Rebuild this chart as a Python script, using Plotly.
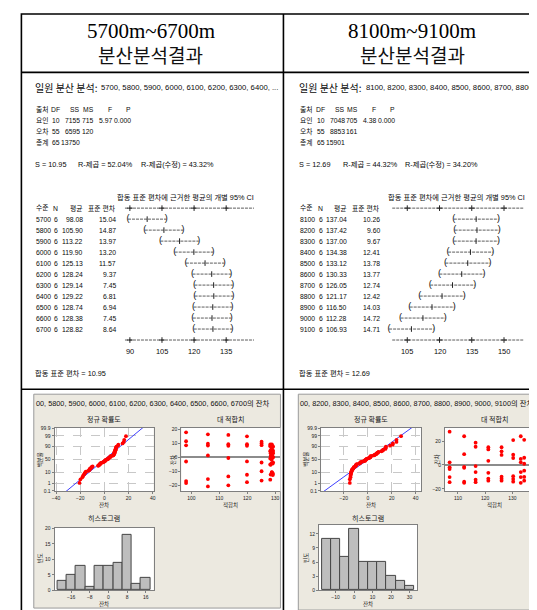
import plotly.graph_objects as go
import numpy as np
from statistics import NormalDist

# =========================== DATA ===========================
range_titles = ["5700m~6700m", "8100m~9100m"]
section_title = "분산분석결과"

L_levels = ["5700", "5800", "5900", "6000", "6100", "6200", "6300", "6400", "6500", "6600", "6700"]
L_n = [6, 6, 6, 6, 6, 6, 6, 6, 6, 6, 6]
L_means = [98.08, 105.90, 113.22, 119.90, 125.13, 128.24, 129.14, 129.22, 128.74, 128.38, 128.82]
L_sds = [15.04, 14.87, 13.97, 13.20, 11.57, 9.37, 7.45, 6.81, 6.94, 7.45, 8.64]
L_df = [10, 55, 65]
L_ss = [7155, 6595, 13750]
L_ms = [715, 120]
L_f = "5.97"
L_p = "0.000"
L_s, L_rsq, L_rsq_adj = "10.95", "52.04%", "43.32%"
L_pooled = 10.95
L_ci_ticks = [90, 105, 120, 135]
L_resid = [
    [17.8, 11.5, 8.6, -2.9, -16.8, -18.2],
    [16.4, 9.8, 8.4, 1.4, -15.4, -20.6],
    [16.0, 9.4, 8.3, -0.4, -13.5, -19.8],
    [15.0, 9.4, 8.3, -2.8, -12.3, -17.6],
    [11.2, 9.9, 8.7, -3.6, -9.8, -16.4],
    [9.2, 8.0, 4.4, -0.8, -5.0, -15.8],
    [8.0, 5.0, 3.2, 0.6, -4.3, -12.5],
    [7.5, 4.5, 3.0, 0.0, -3.5, -11.5],
    [7.6, 6.4, 2.5, -1.5, -4.0, -11.0],
    [8.4, 5.0, 3.0, 1.0, -5.2, -12.2],
    [9.2, 7.2, 4.0, 0.6, -10.4, -10.6],
]

R_levels = ["8100", "8200", "8300", "8400", "8500", "8600", "8700", "8800", "8900", "9000", "9100"]
R_n = [6, 6, 6, 6, 6, 6, 6, 6, 6, 6, 6]
R_means = [137.04, 137.42, 137.00, 134.38, 133.12, 130.33, 126.05, 121.17, 116.50, 112.28, 106.93]
R_sds = [10.26, 9.60, 9.67, 12.41, 13.78, 13.77, 12.74, 12.42, 14.03, 14.72, 14.71]
R_df = [10, 55, 65]
R_ss = [7048, 8853, 15901]
R_ms = [705, 161]
R_f = "4.38"
R_p = "0.000"
R_s, R_rsq, R_rsq_adj = "12.69", "44.32%", "34.20%"
R_pooled = 12.69
R_ci_ticks = [105, 120, 135, 150]
R_resid = [
    [15.0, 7.6, 1.0, -2.4, -9.0, -12.2],
    [12.4, 7.2, 2.0, -0.4, -7.4, -13.8],
    [12.6, 7.0, 2.2, -1.4, -6.2, -14.2],
    [21.0, 6.0, 1.0, -4.8, -10.0, -13.2],
    [24.0, 5.0, 2.2, -6.0, -10.2, -15.0],
    [20.8, 8.6, 5.8, -9.4, -11.8, -14.0],
    [14.8, 11.4, 8.4, -9.8, -11.6, -13.2],
    [14.8, 13.0, 3.4, -6.6, -11.4, -13.2],
    [18.6, 15.2, -1.0, -6.0, -12.4, -14.4],
    [24.0, 9.0, -1.6, -2.4, -14.0, -15.0],
    [27.8, 2.2, -2.0, -3.4, -10.2, -14.4],
]

anova_sources = ["요인", "오차", "총계"]
prob_ticks = [0.1, 1, 10, 50, 90, 99, 99.9]
T_CRIT = 2.004  # t(0.975, 55)

# =========================== LAYOUT HELPERS ===========================
W, H = 537, 610
ROW0, ROWH = 77.0, 11.1
SESS = "Liberation Sans, Noto Sans CJK KR, sans-serif"
SERIF = "Liberation Serif, DejaVu Serif, serif"
CJK = "Noto Sans CJK KR, sans-serif"
GF = "Liberation Sans, Noto Sans CJK KR, sans-serif"
INK = "#0A0A0A"


def dx_(a, b):
    return [a / W, b / W]


def dy_(top, bottom):
    return [1 - bottom / H, 1 - top / H]


ann = []
shapes = []


def stext(x, row, s, size=6.8, anchor="left", xref="x", family=SESS):
    ann.append(dict(x=x, y=row, xref=xref, yref="y", text=s, showarrow=False,
                    xanchor=anchor, yanchor="middle", borderpad=0,
                    font=dict(family=family, size=size, color=INK)))


def ptext(x, y, s, size=7, anchor="center", family=GF, angle=0, color="#222"):
    ann.append(dict(x=x / W, y=1 - y / H, xref="paper", yref="paper", text=s,
                    showarrow=False, xanchor=anchor, yanchor="middle", textangle=angle,
                    borderpad=0, font=dict(family=family, size=size, color=color)))


fig = go.Figure()

# ---------------- header cells ----------------
for cx, t in zip([141, 405], range_titles):
    ptext(cx, 20, t, size=21, family=SERIF, color="#000")
    ptext(cx, 44, section_title, size=19, family=CJK, color="#111")

# ---------------- session text ----------------
sides = [
    dict(dx=0, levels=L_levels, n=L_n, means=L_means, sds=L_sds, df=L_df, ss=L_ss, ms=L_ms,
         f=L_f, p=L_p, s=L_s, rsq=L_rsq, rsqa=L_rsq_adj, pooled=L_pooled, ticks=L_ci_ticks,
         listed=", ".join(L_levels[:8]) + ", ...", cihead_x=106, xa="x2",
         axis_span=[87.7, 148.0]),
    dict(dx=267, levels=R_levels, n=R_n, means=R_means, sds=R_sds, df=R_df, ss=R_ss, ms=R_ms,
         f=R_f, p=R_p, s=R_s, rsq=R_rsq, rsqa=R_rsq_adj, pooled=R_pooled, ticks=R_ci_ticks,
         listed=", ".join(R_levels[:8]) + ",", cihead_x=380, xa="x3",
         axis_span=[98.0, 159.0]),
]

C_DF, C_SS, C_MS, C_F, C_P = 50.5, 71, 84.5, 102.5, 122
C_N, C_MEAN, C_SD = 48.5, 73.5, 106.5

for sd in sides:
    d = sd["dx"]
    stext(23 + d, 0, "일원 분산 분석:", size=10, family=CJK)
    stext(90 + d, 0, sd["listed"], size=7.7)
    # ANOVA table
    stext(24 + d, 2, "출처")
    for xr, h in zip([C_DF, C_SS, C_MS, C_F, C_P], ["DF", "SS", "MS", "F", "P"]):
        stext(xr + d, 2, h, anchor="right")
    for i, src in enumerate(anova_sources):
        r = 3 + i
        stext(24 + d, r, src)
        stext(C_DF + d, r, str(sd["df"][i]), anchor="right")
        stext(C_SS + d, r, str(sd["ss"][i]), anchor="right")
        if i < 2:
            stext(C_MS + d, r, str(sd["ms"][i]), anchor="right")
        if i == 0:
            stext(C_F + d, r, sd["f"], anchor="right")
            stext(C_P + d, r, sd["p"], anchor="right")
    stext(23 + d, 7, "S = " + sd["s"], size=7.3)
    stext(67 + d, 7, "R-제곱 = " + sd["rsq"], size=7.3)
    stext(130 + d, 7, "R-제곱(수정) = " + sd["rsqa"], size=7.3)
    stext(sd["cihead_x"], 10, "합동 표준 편차에 근거한 평균의 개별 95% CI", size=7.3)
    stext(24 + d, 11, "수준")
    stext(C_N + d, 11, "N", anchor="right")
    stext(C_MEAN + d, 11, "평균", anchor="right")
    stext(C_SD + d, 11, "표준 편차", anchor="right")
    for i, lv in enumerate(sd["levels"]):
        r = 12 + i
        stext(24 + d, r, lv)
        stext(C_N + d, r, str(sd["n"][i]), anchor="right")
        stext(C_MEAN + d, r, f"{sd['means'][i]:.2f}", anchor="right")
        stext(C_SD + d, r, f"{sd['sds'][i]:.2f}", anchor="right")
    for t in sd["ticks"]:
        stext(t, 24, str(t), anchor="center", xref=sd["xa"], size=7.4)
    stext(23 + d, 26, f"합동 표준 편차 = {sd['pooled']:.2f}", size=7.3)

    # CI plot (drawn on its own axis)
    rows = list(range(12, 12 + len(sd["levels"])))
    half = T_CRIT * sd["pooled"] / np.sqrt(np.array(sd["n"], dtype=float))
    lo = np.array(sd["means"]) - half
    hi = np.array(sd["means"]) + half
    lx, ly = [], []
    for a, b, r in zip(lo, hi, rows):
        lx += [a, b, None]
        ly += [r, r, None]
    fig.add_trace(go.Scatter(x=lx, y=ly, xaxis=sd["xa"], yaxis="y", mode="lines",
                             line=dict(color="#333", width=0.8, dash="3px,1px"),
                             hoverinfo="skip", showlegend=False))
    fig.add_trace(go.Scatter(x=list(lo) + list(hi), y=rows + rows, xaxis=sd["xa"], yaxis="y",
                             mode="text", text=["("] * len(rows) + [")"] * len(rows),
                             textfont=dict(family=SESS, size=9, color=INK),
                             hoverinfo="skip", showlegend=False))
    fig.add_trace(go.Scatter(x=sd["means"], y=rows, xaxis=sd["xa"], yaxis="y", mode="markers",
                             marker=dict(symbol="line-ns-open", size=4, color="#222",
                                         line=dict(color="#222", width=1)),
                             hoverinfo="skip", showlegend=False))
    a0, a1 = sd["axis_span"]
    fig.add_trace(go.Scatter(x=[a0, a1, None, a0, a1], y=[11, 11, None, 23, 23],
                             xaxis=sd["xa"], yaxis="y", mode="lines",
                             line=dict(color="#333", width=0.8, dash="3px,1px"),
                             hoverinfo="skip", showlegend=False))
    fig.add_trace(go.Scatter(x=sd["ticks"] * 2, y=[11] * 4 + [23] * 4, xaxis=sd["xa"], yaxis="y",
                             mode="markers",
                             marker=dict(symbol="cross-thin-open", size=4, color="#222",
                                         line=dict(color="#222", width=1)),
                             hoverinfo="skip", showlegend=False))

# ---------------- residual graphs ----------------
nd = NormalDist()
prob_z = [nd.inv_cdf(p / 100) for p in prob_ticks]
prob_txt = [str(p) for p in prob_ticks]
zr = [nd.inv_cdf(0.001) - 0.04, nd.inv_cdf(0.999) + 0.04]

graph_sets = [
    dict(res=L_resid, means=L_means, xn="x4", yn="y4", xf="x5", yf="y5", xh="x6", yh="y6",
         bins=dict(start=-22, end=18, size=4)),
    dict(res=R_resid, means=R_means, xn="x7", yn="y7", xf="x8", yf="y8", xh="x9", yh="y9",
         bins=dict(start=-17.5, end=32.5, size=5)),
]
for g in graph_sets:
    allr = np.array(g["res"], dtype=float).ravel()
    srt = np.sort(allr)
    n = len(srt)
    z = [nd.inv_cdf((i + 1 - 0.3) / (n + 0.4)) for i in range(n)]
    mu, sig = allr.mean(), allr.std(ddof=1)
    zl = np.array([-3.6, 3.6])
    fig.add_trace(go.Scatter(x=mu + sig * zl, y=zl, xaxis=g["xn"], yaxis=g["yn"], mode="lines",
                             line=dict(color="#4040FF", width=1), hoverinfo="skip",
                             showlegend=False))
    fig.add_trace(go.Scatter(x=srt, y=z, xaxis=g["xn"], yaxis=g["yn"], mode="markers",
                             marker=dict(color="#FF0000", size=3.8, symbol="circle"),
                             hoverinfo="skip", showlegend=False))
    fx = np.repeat(np.array(g["means"]), 6)
    fig.add_trace(go.Scatter(x=fx, y=allr, xaxis=g["xf"], yaxis=g["yf"], mode="markers",
                             marker=dict(color="#FF0000", size=3.8, symbol="circle"),
                             hoverinfo="skip", showlegend=False))
    fig.add_trace(go.Histogram(x=allr, xbins=g["bins"], xaxis=g["xh"], yaxis=g["yh"],
                               marker=dict(color="#BEBEBE", line=dict(color="#454545", width=1)),
                               hoverinfo="skip", showlegend=False))


def gax(domain, rng, tickvals, ticktext=None, grid=False, mirror=True, anchor=None,
        zeroline=False):
    d = dict(domain=domain, range=rng, tickvals=tickvals, showgrid=grid,
             gridcolor="#C8C8C8", griddash="dash", gridwidth=1,
             zeroline=zeroline, zerolinecolor="#8C8C8C", zerolinewidth=2,
             showline=True, linecolor="#7F7F7F", linewidth=1, mirror=mirror,
             ticks="outside", ticklen=2, tickwidth=1, tickcolor="#7F7F7F",
             tickfont=dict(family=GF, size=5, color="#222"),
             anchor=anchor, fixedrange=True, autorange=False)
    if ticktext is not None:
        d["ticktext"] = ticktext
    return d


layout_axes = dict(
    xaxis=dict(domain=[0, 1], range=[0, W], visible=False, fixedrange=True, anchor="y"),
    yaxis=dict(domain=[0, 1], range=[(H - ROW0) / ROWH, -ROW0 / ROWH], visible=False,
               fixedrange=True, anchor="x"),
    xaxis2=dict(domain=dx_(100, 262), range=[90 + (100 - 120) / 2.16, 90 + (262 - 120) / 2.16],
                visible=False, anchor="y", fixedrange=True),
    xaxis3=dict(domain=dx_(370, 532), range=[105 + (370 - 400) / 2.17, 105 + (532 - 400) / 2.17],
                visible=False, anchor="y", fixedrange=True),
    # left normal
    xaxis4=gax(dx_(44, 144), [-41.2, 40.7], [-40, -20, 0, 20, 40], grid=True, anchor="y4"),
    yaxis4=gax(dy_(421, 485), zr, prob_z, prob_txt, grid=True, anchor="x4"),
    # left fits
    xaxis5=gax(dx_(172, 272), [96.4, 131.9], [100, 110, 120, 130], anchor="y5"),
    yaxis5=gax(dy_(421, 485), [-24, 21], [-20, -10, 0, 10, 20], mirror=False, anchor="x5",
               zeroline=True),
    # left histogram
    xaxis6=gax(dx_(44, 144), [-23.1, 19.4], [-16, -8, 0, 8, 16], anchor="y6"),
    yaxis6=gax(dy_(522, 585), [0, 20.2], [0, 5, 10, 15, 20], anchor="x6"),
    # right normal
    xaxis7=gax(dx_(313, 414), [-39, 44.6], [-40, -20, 0, 20, 40], grid=True, anchor="y7"),
    yaxis7=gax(dy_(421, 485), zr, prob_z, prob_txt, grid=True, anchor="x7"),
    # right fits
    xaxis8=gax(dx_(438, 537), [105.2, 141.3], [110, 120, 130], anchor="y8"),
    yaxis8=gax(dy_(421, 485), [-22, 31], [-20, 0, 20], mirror=False, anchor="x8",
               zeroline=True),
    # right histogram
    xaxis9=gax(dx_(311, 410), [-18.9, 34.1], [-10, 0, 10, 20, 30], anchor="y9"),
    yaxis9=gax(dy_(519, 585), [0, 13.9], [0, 3, 6, 9, 12], anchor="x9"),
)

# graph backgrounds (beige screenshots) and white plot areas
BEIGE = "#ECE9E0"
shapes.append(dict(type="rect", xref="paper", yref="paper", x0=23 / W, x1=272 / W,
                   y0=1 - 603 / H, y1=1 - 387 / H, fillcolor=BEIGE,
                   line=dict(color="#9A9A9A", width=1), layer="below"))
shapes.append(dict(type="rect", xref="paper", yref="paper", x0=290 / W, x1=1.02,
                   y0=1 - 605 / H, y1=1 - 387 / H, fillcolor=BEIGE,
                   line=dict(color="#9A9A9A", width=1), layer="below"))
for k in range(4, 10):
    shapes.append(dict(type="rect", xref=f"x{k} domain", yref=f"y{k} domain", x0=0, x1=1,
                       y0=0, y1=1, fillcolor="white", line=dict(width=0), layer="below"))

# graph texts
ptext(24, 396, "00, " + ", ".join(L_levels[1:]) + "의 잔차", size=7.3, anchor="left",
      family=GF, color="#111")
ptext(291, 396, "00, " + ", ".join(R_levels[1:]) + "의 잔차", size=7.3, anchor="left",
      family=GF, color="#111")
for cn, cf, ch in [(94, 222, 94), (363, 488, 360)]:
    ptext(cn, 412, "정규 확률도", size=7, family=CJK)
    ptext(cf, 412, "대 적합치", size=7, family=CJK)
    ptext(ch, 512.5, "히스토그램", size=7, family=CJK)
    ptext(cn, 498.5, "잔차", size=5.5, family=CJK)
    ptext(cf, 498.5, "적합치", size=5.5, family=CJK)
    ptext(ch, 599, "잔차", size=5.5, family=CJK)
ptext(29, 453, "백분율", size=5.5, family=CJK, angle=-90)
ptext(163, 453, "잔차", size=5.5, family=CJK, angle=-90)
ptext(29, 553, "빈도", size=5.5, family=CJK, angle=-90)
ptext(297, 453, "백분율", size=5.5, family=CJK, angle=-90)
ptext(430, 453, "잔차", size=5.5, family=CJK, angle=-90)
ptext(297, 552, "빈도", size=5.5, family=CJK, angle=-90)

# table frame
LINE = dict(color="#000000", width=1.6)
shapes.append(dict(type="rect", xref="paper", yref="paper", x0=10.5 / W, x1=535.5 / W,
                   y0=1 - 607 / H, y1=1 - 3 / H, line=LINE, layer="above"))
shapes.append(dict(type="line", xref="paper", yref="paper", x0=275 / W, x1=275 / W,
                   y0=1 - 607 / H, y1=1 - 3 / H, line=LINE, layer="above"))
for yy in [62, 382]:
    shapes.append(dict(type="line", xref="paper", yref="paper", x0=10.5 / W, x1=535.5 / W,
                       y0=1 - yy / H, y1=1 - yy / H, line=LINE, layer="above"))

fig.update_layout(
    width=W, height=H, autosize=False,
    margin=dict(l=0, r=0, t=0, b=0, pad=0),
    paper_bgcolor="white", plot_bgcolor="rgba(0,0,0,0)",
    showlegend=False, bargap=0,
    annotations=ann, shapes=shapes,
    **layout_axes,
)

fig.write_html("out.html")
